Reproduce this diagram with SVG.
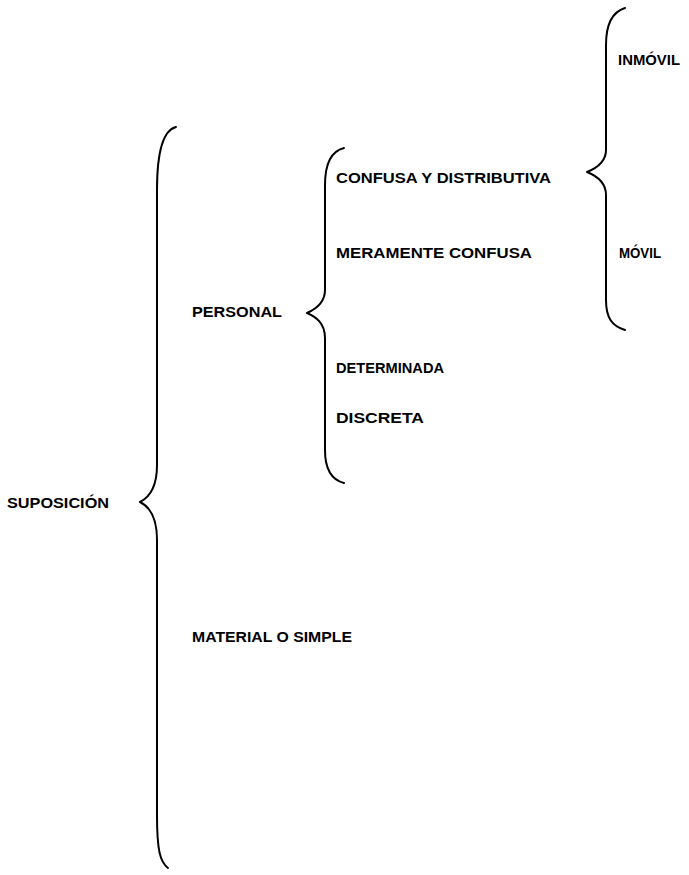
<svg xmlns="http://www.w3.org/2000/svg" width="689" height="875" viewBox="0 0 689 875">
  <style>
    .brace { fill: none; stroke: #000; stroke-width: 2; stroke-linecap: round; stroke-linejoin: round; }
    .lbl { font-family: "Liberation Sans", Arial, sans-serif; font-size: 14px; font-weight: bold; fill: #000; }
  </style>
  <rect width="689" height="875" fill="#fff"/>

  <g id="connectors">
    <!-- main brace: SUPOSICIÓN -->
    <path class="brace" d="M176,127 C164,130 157,150 157,190 L157,465 C157,487 150,497 140,502 C150,507 157,518 157,540 L157,815 C157,850 160,862 168,868"/>
    <!-- brace: PERSONAL -->
    <path class="brace" d="M344,148 C332,151 325,162 325,185 L325,290 C325,303 316,309 307,313 C316,317 325,323 325,338 L325,450 C325,470 332,480 344,483"/>
    <!-- brace: CONFUSA Y DISTRIBUTIVA -->
    <path class="brace" d="M625,8 C612,12 606,25 606,45 L606,150 C606,162 597,168 587,172 C597,176 606,182 606,195 L606,300 C606,318 612,326 625,330"/>
  </g>

  <g id="n-suposicion"><text class="lbl" x="7" y="508" textLength="102" lengthAdjust="spacingAndGlyphs">SUPOSICIÓN</text></g>
  <g id="n-personal"><text class="lbl" x="192" y="317" textLength="90" lengthAdjust="spacingAndGlyphs">PERSONAL</text></g>
  <g id="n-material"><text class="lbl" x="192" y="642" textLength="160" lengthAdjust="spacingAndGlyphs">MATERIAL O SIMPLE</text></g>
  <g id="n-confusa-distributiva"><text class="lbl" x="336" y="183" textLength="215" lengthAdjust="spacingAndGlyphs">CONFUSA Y DISTRIBUTIVA</text></g>
  <g id="n-meramente"><text class="lbl" x="336" y="258" textLength="196" lengthAdjust="spacingAndGlyphs">MERAMENTE CONFUSA</text></g>
  <g id="n-determinada"><text class="lbl" x="336" y="373" textLength="108" lengthAdjust="spacingAndGlyphs">DETERMINADA</text></g>
  <g id="n-discreta"><text class="lbl" x="336" y="423" textLength="88" lengthAdjust="spacingAndGlyphs">DISCRETA</text></g>
  <g id="n-inmovil"><text class="lbl" x="618" y="65" textLength="62" lengthAdjust="spacingAndGlyphs">INMÓVIL</text></g>
  <g id="n-movil"><text class="lbl" x="619" y="258" textLength="42" lengthAdjust="spacingAndGlyphs">MÓVIL</text></g>
</svg>
